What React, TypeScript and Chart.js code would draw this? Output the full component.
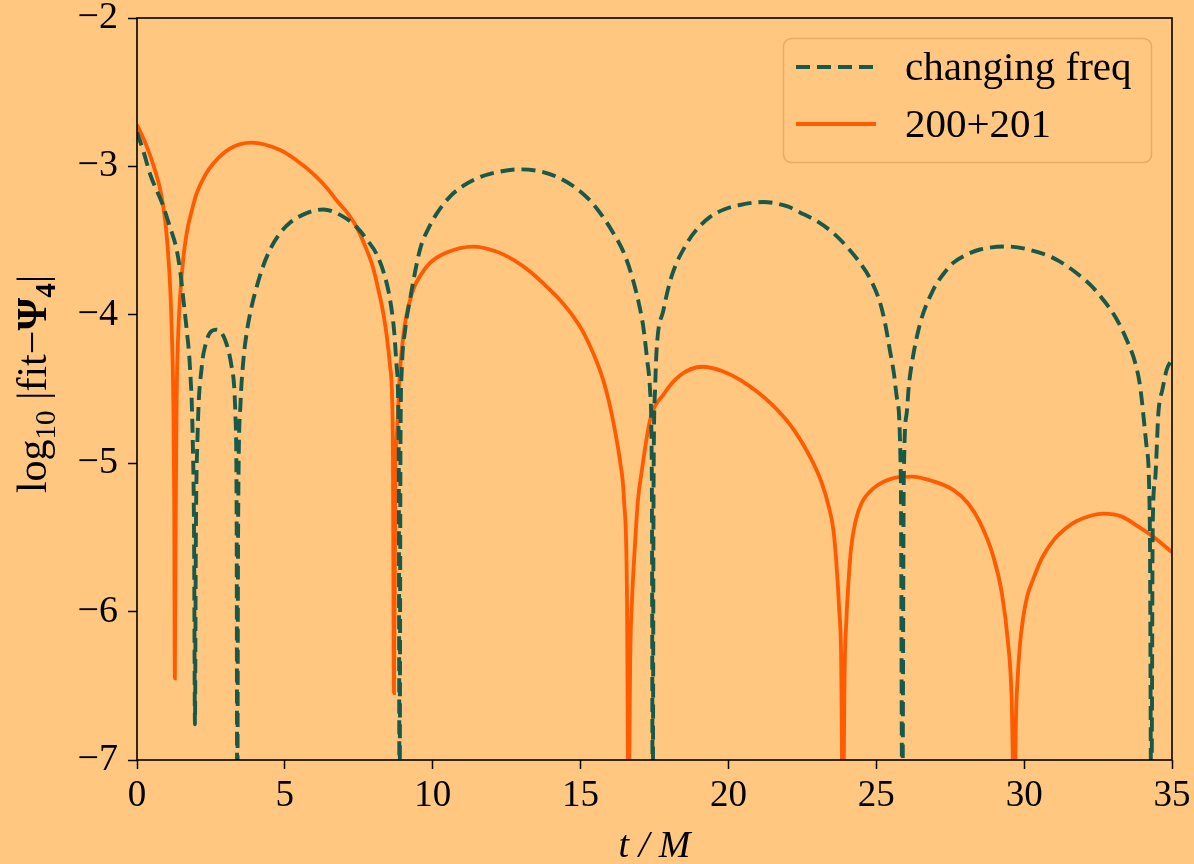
import React, { useEffect, useRef } from 'react';
import { Chart, registerables } from 'chart.js';

Chart.register(...registerables);

const BG = '#ffc77f';
const GREEN = '#17594a';
const ORANGE = '#ff5b00';
const FONT = '"Liberation Serif", "DejaVu Serif", serif';

const legendLabels = ['changing freq', '200+201'];
const xTitle = 't / M';

const xMin = 0;
const xMax = 35;
const xStep = 5;
const yMin = -7;
const yMax = -2;
const yStep = 1;

// "changing freq" curve (t/M, log10|fit - Psi4|)
const tChanging = [
  0.0, 0.22, 0.44, 0.89, 1.1, 1.34, 1.47, 1.57, 1.68, 1.79, 1.88, 1.93, 1.96, 1.99, 2.05, 2.19, 2.32, 2.47, 2.69,
  2.98, 3.2, 3.33, 3.37, 3.39, 3.42, 3.5, 3.6, 3.71, 3.87, 4.05, 4.25, 4.5, 4.8, 5.17, 5.8, 6.3, 6.9, 7.43, 7.8,
  8.1, 8.35, 8.56, 8.7, 8.78, 8.85, 8.88, 8.91, 8.95, 9.07, 9.23, 9.57, 9.85, 10.13, 10.6, 11.04, 11.5, 11.94,
  12.95, 14.19, 15.32, 16.11, 16.5, 16.78, 17.0, 17.12, 17.25, 17.35, 17.41, 17.44, 17.47, 17.52, 17.57, 17.8,
  18.08, 18.59, 18.95, 19.38, 19.85, 20.39, 21.18, 22.0, 22.42, 23.0, 23.55, 24.0, 24.45, 24.8, 25.13, 25.3,
  25.46, 25.6, 25.69, 25.83, 25.88, 25.93, 26.03, 26.1, 26.2, 26.48, 26.93, 27.25, 27.6, 28.0, 28.51, 29.41,
  30.65, 31.2, 31.78, 32.25, 32.68, 33.1, 33.47, 33.75, 33.92, 34.14, 34.25, 34.3, 34.35, 34.43, 34.54, 34.68,
  34.82, 35.0,
];
const yChanging = [
  -2.77, -2.9, -3.05, -3.27, -3.4, -3.56, -3.72, -3.9, -4.1, -4.35, -4.8, -5.5, -6.76, -5.5, -4.8, -4.35, -4.2,
  -4.12, -4.1, -4.17, -4.35, -4.69, -5.4, -7.5, -5.4, -4.6, -4.3, -4.12, -3.95, -3.81, -3.68, -3.56, -3.46, -3.38,
  -3.31, -3.29, -3.33, -3.41, -3.5, -3.59, -3.72, -3.9, -4.12, -4.35, -4.9, -7.5, -4.9, -4.39, -4.1, -3.9, -3.56,
  -3.42, -3.32, -3.2, -3.13, -3.08, -3.05, -3.02, -3.07, -3.23, -3.45, -3.6, -3.77, -3.95, -4.08, -4.3, -4.51,
  -5.1, -7.5, -5.1, -4.5, -4.24, -3.97, -3.74, -3.52, -3.42, -3.34, -3.29, -3.26, -3.24, -3.27, -3.31, -3.37,
  -3.45, -3.54, -3.65, -3.76, -3.92, -4.06, -4.24, -4.4, -4.55, -5.11, -7.5, -5.11, -4.66, -4.48, -4.33, -4.06,
  -3.83, -3.73, -3.65, -3.6, -3.56, -3.54, -3.59, -3.64, -3.72, -3.8, -3.9, -4.02, -4.17, -4.32, -4.48, -4.89,
  -5.4, -7.5, -5.4, -5.11, -4.66, -4.5, -4.37, -4.3,
];

// "200+201" curve
const tModes = [
  0.0, 0.3, 0.6, 0.8, 0.95, 1.05, 1.13, 1.19, 1.23, 1.26, 1.28, 1.31, 1.34, 1.39, 1.45, 1.55, 1.68, 1.85, 2.02,
  2.3, 2.58, 3.14, 3.88, 4.84, 5.4, 5.96, 6.4, 6.75, 7.1, 7.43, 7.7, 7.98, 8.15, 8.33, 8.45, 8.56, 8.65, 8.69,
  8.74, 8.78, 8.89, 9.06, 9.34, 9.6, 9.91, 10.47, 11.37, 12.1, 12.73, 13.3, 13.85, 14.3, 14.75, 15.1, 15.43,
  15.75, 16.0, 16.2, 16.33, 16.47, 16.57, 16.62, 16.68, 16.74, 16.84, 16.94, 17.05, 17.35, 17.83, 18.35, 19.12,
  19.8, 20.41, 21.45, 22.23, 22.87, 23.15, 23.39, 23.55, 23.65, 23.75, 23.81, 23.87, 23.93, 23.99, 24.06, 24.15,
  24.3, 24.5, 24.9, 25.59, 26.2, 26.9, 27.6, 28.1, 28.51, 28.96, 29.25, 29.45, 29.58, 29.67, 29.72, 29.78, 29.86,
  29.96, 30.1, 30.31, 30.6, 30.99, 31.4, 31.78, 32.68, 33.3, 33.81, 34.4, 35.0,
];
const yModes = [
  -2.72, -2.85, -3.02, -3.17, -3.36, -3.58, -3.85, -4.2, -4.6, -5.3, -6.45, -5.3, -4.57, -4.15, -3.9, -3.65,
  -3.45, -3.3, -3.18, -3.06, -2.98, -2.88, -2.84, -2.89, -2.96, -3.05, -3.14, -3.23, -3.31, -3.41, -3.53, -3.68,
  -3.82, -3.99, -4.15, -4.35, -4.8, -6.55, -5.0, -4.84, -4.39, -4.06, -3.83, -3.73, -3.65, -3.58, -3.54, -3.57,
  -3.63, -3.71, -3.81, -3.9, -4.01, -4.12, -4.26, -4.43, -4.62, -4.82, -4.98, -5.25, -5.9, -7.5, -6.3, -5.92,
  -5.55, -5.25, -5.08, -4.71, -4.53, -4.41, -4.35, -4.38, -4.44, -4.6, -4.78, -5.0, -5.13, -5.29, -5.45, -5.67,
  -6.0, -6.3, -7.5, -6.4, -6.05, -5.8, -5.57, -5.39, -5.27, -5.17, -5.1, -5.09, -5.12, -5.18, -5.27, -5.4, -5.63,
  -5.88, -6.2, -6.6, -7.5, -6.75, -6.45, -6.22, -6.05, -5.9, -5.78, -5.64, -5.52, -5.44, -5.39, -5.34, -5.36,
  -5.42, -5.5, -5.6,
];

const toPoints = (ts: number[], ys: number[]) => ts.map((t, i) => ({ x: t, y: ys[i] }));
const fmt = (v: number) => (v < 0 ? '\u2212' + Math.abs(v) : String(v));

const decorPlugin = {
  id: 'decor',
  beforeDraw(chart: any) {
    const { ctx, width, height } = chart;
    ctx.save();
    ctx.fillStyle = BG;
    ctx.fillRect(0, 0, width, height);
    ctx.restore();
  },
  afterDraw(chart: any) {
    const { ctx, chartArea } = chart;
    const { left, top, right, bottom } = chartArea;
    ctx.save();
    // frame
    ctx.strokeStyle = '#000';
    ctx.lineWidth = 1.6;
    ctx.strokeRect(left, top, right - left, bottom - top);

    // legend
    ctx.beginPath();
    ctx.roundRect(783.5, 38.5, 368, 124, 8);
    ctx.fillStyle = 'rgba(255,199,127,0.8)';
    ctx.fill();
    ctx.strokeStyle = '#e2ad68';
    ctx.lineWidth = 1.5;
    ctx.stroke();

    ctx.lineWidth = 3.9;
    ctx.strokeStyle = GREEN;
    ctx.setLineDash([14, 7]);
    ctx.beginPath();
    ctx.moveTo(796, 67);
    ctx.lineTo(876, 67);
    ctx.stroke();
    ctx.setLineDash([]);
    ctx.strokeStyle = ORANGE;
    ctx.beginPath();
    ctx.moveTo(796, 124);
    ctx.lineTo(876, 124);
    ctx.stroke();

    ctx.fillStyle = '#000';
    ctx.textBaseline = 'alphabetic';
    ctx.textAlign = 'left';
    ctx.font = `41px ${FONT}`;
    ctx.fillText(legendLabels[0], 905, 80);
    ctx.fillText(legendLabels[1], 905, 137);

    // x title
    ctx.font = `italic 38px ${FONT}`;
    ctx.textAlign = 'center';
    ctx.fillText(xTitle, (left + right) / 2, 857);

    // y title with subscripts
    const segs = [
      { t: 'log', f: `42px ${FONT}`, dy: 0 },
      { t: '10', f: `29px ${FONT}`, dy: 9 },
      { t: ' |fit\u2212', f: `42px ${FONT}`, dy: 0 },
      { t: '\u03A8', f: `bold 42px ${FONT}`, dy: 0 },
      { t: '4', f: `bold 29px ${FONT}`, dy: 9 },
      { t: '|', f: `42px ${FONT}`, dy: 0 },
    ];
    let total = 0;
    const widths = segs.map((s) => {
      ctx.font = s.f;
      const w = ctx.measureText(s.t).width;
      total += w;
      return w;
    });
    ctx.translate(46, 384);
    ctx.rotate(-Math.PI / 2);
    ctx.textAlign = 'left';
    let x = -total / 2;
    segs.forEach((s, i) => {
      ctx.font = s.f;
      ctx.fillText(s.t, x, s.dy);
      x += widths[i];
    });
    ctx.restore();
  },
};

export default function App() {
  const ref = useRef<HTMLCanvasElement>(null);

  useEffect(() => {
    if (!ref.current) return;
    const chart = new Chart(ref.current, {
      type: 'line',
      data: {
        datasets: [
          {
            label: legendLabels[0],
            data: toPoints(tChanging, yChanging),
            borderColor: GREEN,
            borderWidth: 3.9,
            borderDash: [14, 7],
            pointRadius: 0,
            fill: false,
            cubicInterpolationMode: 'monotone',
          },
          {
            label: legendLabels[1],
            data: toPoints(tModes, yModes),
            borderColor: ORANGE,
            borderWidth: 3.8,
            pointRadius: 0,
            fill: false,
            cubicInterpolationMode: 'monotone',
          },
        ],
      },
      options: {
        animation: false,
        responsive: false,
        devicePixelRatio: 1,
        layout: { padding: { left: 0, top: 18, right: 22, bottom: 0 } },
        plugins: { legend: { display: false }, tooltip: { enabled: false } },
        scales: {
          x: {
            type: 'linear',
            min: xMin,
            max: xMax,
            border: { display: false },
            grid: { drawOnChartArea: false, drawTicks: true, tickLength: 9, tickColor: '#000', tickWidth: 1.5 },
            ticks: {
              stepSize: xStep,
              autoSkip: false,
              maxRotation: 0,
              color: '#000',
              padding: 5,
              font: { family: FONT, size: 37 },
              callback: (v: any) => fmt(Number(v)),
            },
            afterFit: (s: any) => {
              s.height = 104;
              s.paddingLeft = 0;
              s.paddingRight = 0;
            },
          },
          y: {
            type: 'linear',
            min: yMin,
            max: yMax,
            border: { display: false },
            grid: { drawOnChartArea: false, drawTicks: true, tickLength: 9, tickColor: '#000', tickWidth: 1.5 },
            ticks: {
              stepSize: yStep,
              autoSkip: false,
              color: '#000',
              padding: 10,
              font: { family: FONT, size: 38 },
              callback: (v: any) => fmt(Number(v)),
            },
            afterFit: (s: any) => {
              s.width = 137;
              s.paddingTop = 0;
              s.paddingBottom = 0;
            },
          },
        },
      },
      plugins: [decorPlugin],
    });
    return () => chart.destroy();
  }, []);

  return (
    <div style={{ position: 'fixed', left: 0, top: 0, width: 1194, height: 864, background: BG }}>
      <canvas ref={ref} width={1194} height={864} style={{ display: 'block' }} />
    </div>
  );
}
